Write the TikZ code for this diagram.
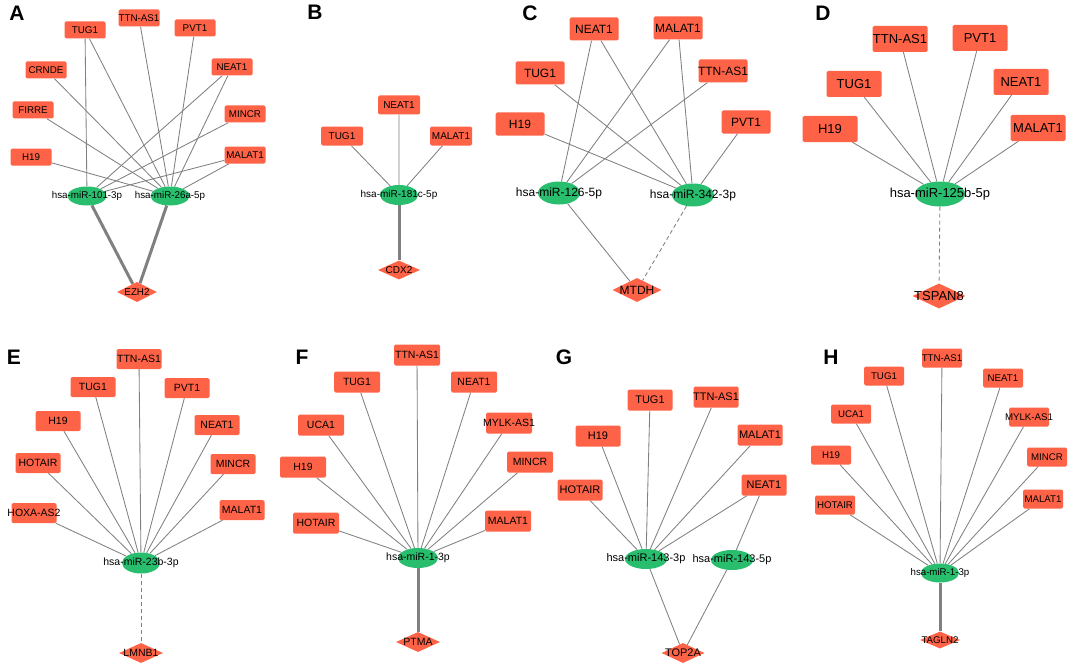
\documentclass[tikz,border=0pt]{standalone}
\usepackage{fontspec}
\setmainfont{Liberation Sans}
\usetikzlibrary{shapes.geometric,backgrounds}

\definecolor{lncred}{RGB}{255,99,71}
\definecolor{mirgreen}{RGB}{40,190,110}
\definecolor{linkgray}{RGB}{128,128,128}

\tikzset{
  lnc/.style={rectangle, rounded corners=1.5pt, fill=lncred, inner sep=0pt, label={center:#1}},
  mirna/.style={ellipse, fill=mirgreen, inner sep=0pt, label={center:#1}},
  gene/.style={diamond, aspect=2, fill=lncred, inner sep=0pt, label={center:#1}},
  link/.style={linkgray, line width=0.85pt},
  strong/.style={linkgray, line width=3pt},
  weak/.style={linkgray, line width=0.85pt, dash pattern=on 4pt off 3pt},
  panel/.style={font=\bfseries\fontsize{21}{21}\selectfont},
}

\begin{document}
\begin{tikzpicture}[x=1pt,y=-1pt]
	\useasboundingbox (0,0) rectangle (1072,669);

	% Panel A
	\begin{scope}[lnc/.append style={minimum width=41, minimum height=17},
		mirna/.append style={minimum width=39, minimum height=19},
		gene/.append style={minimum width=40, minimum height=20},
		every label/.append style={font=\fontsize{9.8}{11}\selectfont}]
		\node[panel] (labA) at (17,13) {A};
		\node[lnc=TUG1] (aTUG) at (85,30) {};
		\node[lnc=TTN-AS1] (aTTN) at (139,18) {};
		\node[lnc=PVT1] (aPVT) at (195,28) {};
		\node[lnc=CRNDE] (aCRN) at (46,70) {};
		\node[lnc=NEAT1] (aNEAT) at (232,67) {};
		\node[lnc=FIRRE] (aFIR) at (33,110) {};
		\node[lnc=MINCR] (aMIN) at (245,114) {};
		\node[lnc=H19] (aH19) at (31,157) {};
		\node[lnc=MALAT1] (aMAL) at (245,155) {};
		\node[mirna=hsa-miR-101-3p] (a101) at (87,196) {};
		\node[mirna=hsa-miR-26a-5p] (a26) at (170,196) {};
		\node[gene=EZH2] (aEZH) at (137,292) {};
		\begin{scope}[on background layer]
			\draw[link] (aTUG) -- (a101) (aNEAT) -- (a101) (aMIN) -- (a101) (aMAL) -- (a101);
			\draw[link] (aTUG) -- (a26) (aTTN) -- (a26) (aPVT) -- (a26) (aCRN) -- (a26);
			\draw[link] (aFIR) -- (a26) (aH19) -- (a26) (aNEAT) -- (a26) (aMAL) -- (a26);
			\draw[strong] (a101) -- (aEZH) (a26) -- (aEZH);
		\end{scope}
	\end{scope}

	% Panel B
	\begin{scope}[lnc/.append style={minimum width=42, minimum height=19},
		mirna/.append style={minimum width=38, minimum height=20},
		gene/.append style={minimum width=42, minimum height=19},
		every label/.append style={font=\fontsize{10}{12}\selectfont}]
		\node[panel] (labB) at (315,12) {B};
		\node[lnc=NEAT1] (bNEAT) at (399,105) {};
		\node[lnc=TUG1] (bTUG) at (342,136) {};
		\node[lnc=MALAT1] (bMAL) at (451,136) {};
		\node[mirna=hsa-miR-181c-5p] (b181) at (399,195) {};
		\node[gene=CDX2] (bCDX) at (399,270) {};
		\begin{scope}[on background layer]
			\draw[link] (bTUG) -- (b181) (bNEAT) -- (b181) (bMAL) -- (b181);
			\draw[strong] (b181) -- (bCDX);
		\end{scope}
	\end{scope}

	% Panel C
	\begin{scope}[lnc/.append style={minimum width=49, minimum height=23},
		mirna/.append style={minimum width=42, minimum height=23},
		gene/.append style={minimum width=49, minimum height=24},
		every label/.append style={font=\fontsize{12}{14}\selectfont}]
		\node[panel] (labC) at (530,13) {C};
		\node[lnc=NEAT1] (cNEAT) at (594,29) {};
		\node[lnc=MALAT1] (cMAL) at (678,28) {};
		\node[lnc=TUG1] (cTUG) at (540,73) {};
		\node[lnc=TTN-AS1] (cTTN) at (723,71) {};
		\node[lnc=H19] (cH19) at (520,124) {};
		\node[lnc=PVT1] (cPVT) at (746,122) {};
		\node[mirna=hsa-miR-126-5p] (c126) at (559,193) {};
		\node[mirna=hsa-miR-342-3p] (c342) at (693,195) {};
		\node[gene=MTDH] (cMTDH) at (637,290) {};
		\begin{scope}[on background layer]
			\draw[link] (cNEAT) -- (c126) (cMAL) -- (c126) (cTTN) -- (c126);
			\draw[link] (cNEAT) -- (c342) (cMAL) -- (c342) (cTUG) -- (c342) (cH19) -- (c342) (cPVT) -- (c342);
			\draw[link] (c126) -- (cMTDH);
			\draw[weak] (c342) -- (cMTDH);
		\end{scope}
	\end{scope}

	% Panel D
	\begin{scope}[lnc/.append style={minimum width=55, minimum height=26},
		mirna/.append style={minimum width=50, minimum height=25},
		gene/.append style={minimum width=53, minimum height=25},
		every label/.append style={font=\fontsize{13}{15}\selectfont}]
		\node[panel] (labD) at (823,13) {D};
		\node[lnc=TTN-AS1] (dTTN) at (900,39) {};
		\node[lnc=PVT1] (dPVT) at (980,38) {};
		\node[lnc=TUG1] (dTUG) at (854,84) {};
		\node[lnc=NEAT1] (dNEAT) at (1021,82) {};
		\node[lnc=H19] (dH19) at (830,129) {};
		\node[lnc=MALAT1] (dMAL) at (1038,128) {};
		\node[mirna=hsa-miR-125b-5p] (d125) at (940,194) {};
		\node[gene=TSPAN8] (dTSP) at (939,296) {};
		\begin{scope}[on background layer]
			\draw[link] (dTTN) -- (d125) (dPVT) -- (d125) (dTUG) -- (d125);
			\draw[link] (dNEAT) -- (d125) (dH19) -- (d125) (dMAL) -- (d125);
			\draw[weak] (d125) -- (dTSP);
		\end{scope}
	\end{scope}

	% Panel E
	\begin{scope}[lnc/.append style={minimum width=45, minimum height=20},
		mirna/.append style={minimum width=38, minimum height=21},
		gene/.append style={minimum width=44, minimum height=20},
		every label/.append style={font=\fontsize{10.5}{12}\selectfont}]
		\node[panel] (labE) at (14,357) {E};
		\node[lnc=TTN-AS1] (eTTN) at (139,359) {};
		\node[lnc=TUG1] (eTUG) at (93,387) {};
		\node[lnc=PVT1] (ePVT) at (187,388) {};
		\node[lnc=H19] (eH19) at (58,421) {};
		\node[lnc=NEAT1] (eNEAT) at (217,425) {};
		\node[lnc=HOTAIR] (eHOT) at (38,463) {};
		\node[lnc=MINCR] (eMIN) at (233,464) {};
		\node[lnc=HOXA-AS2] (eHOXA) at (34,513) {};
		\node[lnc=MALAT1] (eMAL) at (242,510) {};
		\node[mirna=hsa-miR-23b-3p] (e23) at (141,563) {};
		\node[gene=LMNB1] (eLMN) at (141,653) {};
		\begin{scope}[on background layer]
			\draw[link] (eTTN) -- (e23) (eTUG) -- (e23) (ePVT) -- (e23) (eH19) -- (e23) (eNEAT) -- (e23);
			\draw[link] (eHOT) -- (e23) (eMIN) -- (e23) (eHOXA) -- (e23) (eMAL) -- (e23);
			\draw[weak] (e23) -- (eLMN);
		\end{scope}
	\end{scope}

	% Panel F
	\begin{scope}[lnc/.append style={minimum width=46, minimum height=21},
		mirna/.append style={minimum width=40, minimum height=20},
		gene/.append style={minimum width=44, minimum height=20},
		every label/.append style={font=\fontsize{10.5}{12}\selectfont}]
		\node[panel] (labF) at (302,357) {F};
		\node[lnc=TTN-AS1] (fTTN) at (417,355) {};
		\node[lnc=TUG1] (fTUG) at (357,382) {};
		\node[lnc=NEAT1] (fNEAT) at (474,382) {};
		\node[lnc=UCA1] (fUCA) at (321,425) {};
		\node[lnc=MYLK-AS1] (fMYLK) at (509,423) {};
		\node[lnc=H19] (fH19) at (303,467) {};
		\node[lnc=MINCR] (fMIN) at (530,462) {};
		\node[lnc=HOTAIR] (fHOT) at (316,523) {};
		\node[lnc=MALAT1] (fMAL) at (508,521) {};
		\node[mirna=hsa-miR-1-3p] (f13) at (418,558) {};
		\node[gene=PTMA] (fPTMA) at (418,642) {};
		\begin{scope}[on background layer]
			\draw[link] (fTTN) -- (f13) (fTUG) -- (f13) (fNEAT) -- (f13) (fUCA) -- (f13) (fMYLK) -- (f13);
			\draw[link] (fH19) -- (f13) (fMIN) -- (f13) (fHOT) -- (f13) (fMAL) -- (f13);
			\draw[strong] (f13) -- (fPTMA);
		\end{scope}
	\end{scope}

	% Panel G
	\begin{scope}[lnc/.append style={minimum width=45, minimum height=21},
		mirna/.append style={minimum width=42, minimum height=20},
		gene/.append style={minimum width=43, minimum height=20},
		every label/.append style={font=\fontsize{11}{13}\selectfont}]
		\node[panel] (labG) at (564,357) {G};
		\node[lnc=TUG1] (gTUG) at (650,400) {};
		\node[lnc=TTN-AS1] (gTTN) at (716,397) {};
		\node[lnc=H19] (gH19) at (598,436) {};
		\node[lnc=MALAT1] (gMAL) at (760,435) {};
		\node[lnc=HOTAIR] (gHOT) at (580,490) {};
		\node[lnc=NEAT1] (gNEAT) at (764,485) {};
		\node[mirna=hsa-miR-143-3p] (g3p) at (646,559) {};
		\node[mirna=hsa-miR-143-5p] (g5p) at (732,560) {};
		\node[gene=TOP2A] (gTOP) at (683,653) {};
		\begin{scope}[on background layer]
			\draw[link] (gTUG) -- (g3p) (gTTN) -- (g3p) (gH19) -- (g3p);
			\draw[link] (gMAL) -- (g3p) (gHOT) -- (g3p) (gNEAT) -- (g3p);
			\draw[link] (gNEAT) -- (g5p);
			\draw[link] (g3p) -- (gTOP) (g5p) -- (gTOP);
		\end{scope}
	\end{scope}

	% Panel H
	\begin{scope}[lnc/.append style={minimum width=40, minimum height=19},
		mirna/.append style={minimum width=38, minimum height=19},
		gene/.append style={minimum width=40, minimum height=17},
		every label/.append style={font=\fontsize{9.7}{11}\selectfont}]
		\node[panel] (labH) at (831,357) {H};
		\node[lnc=TTN-AS1] (hTTN) at (942,358) {};
		\node[lnc=TUG1] (hTUG) at (884,376) {};
		\node[lnc=NEAT1] (hNEAT) at (1003,378) {};
		\node[lnc=UCA1] (hUCA) at (851,414) {};
		\node[lnc=MYLK-AS1] (hMYLK) at (1029,417) {};
		\node[lnc=H19] (hH19) at (831,455) {};
		\node[lnc=MINCR] (hMIN) at (1047,457) {};
		\node[lnc=HOTAIR] (hHOT) at (835,505) {};
		\node[lnc=MALAT1] (hMAL) at (1043,499) {};
		\node[mirna=hsa-miR-1-3p] (h13) at (940,573) {};
		\node[gene=TAGLN2] (hTAG) at (940,640) {};
		\begin{scope}[on background layer]
			\draw[link] (hTTN) -- (h13) (hTUG) -- (h13) (hNEAT) -- (h13) (hUCA) -- (h13) (hMYLK) -- (h13);
			\draw[link] (hH19) -- (h13) (hMIN) -- (h13) (hHOT) -- (h13) (hMAL) -- (h13);
			\draw[strong] (h13) -- (hTAG);
		\end{scope}
	\end{scope}
\end{tikzpicture}
\end{document}
